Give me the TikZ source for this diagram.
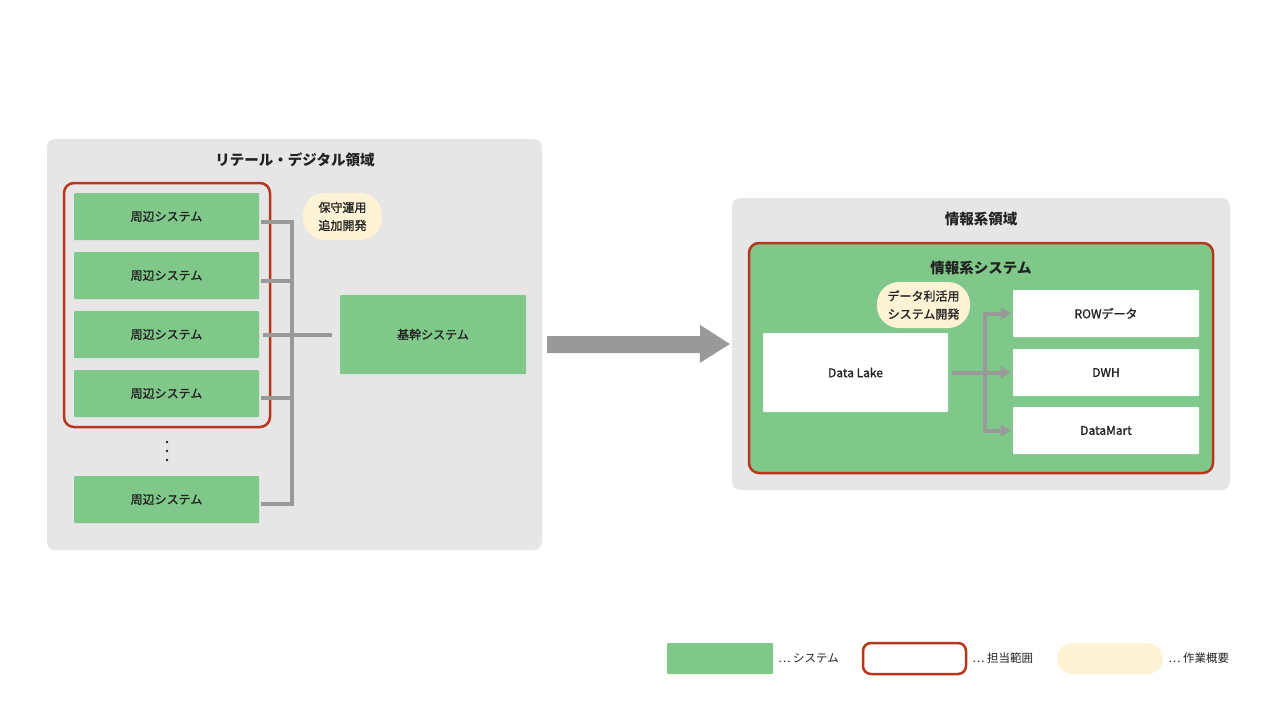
\documentclass[tikz,border=0pt]{standalone}
\usepackage{fontspec}
\setmainfont{Noto Sans CJK JP}
\newfontfamily\jpmed{Noto Sans CJK JP}[FakeBold=1.3]
\usetikzlibrary{arrows.meta}
\definecolor{panelgray}{HTML}{E6E6E6}
\definecolor{sysgreen}{HTML}{80C88A}
\definecolor{scopered}{HTML}{B8361C}
\definecolor{workyellow}{HTML}{FFF3D6}
\definecolor{conngray}{HTML}{999999}
\definecolor{txt}{HTML}{222222}
\tikzset{
  panel/.style={fill=panelgray, rounded corners=8pt, inner sep=0pt},
  sysbox/.style={fill=sysgreen, draw=none, inner sep=0pt, text=txt, font=\jpmed\fontsize{12}{14}\selectfont, rounded corners=1pt},
  whitebox/.style={fill=white, draw=none, inner sep=0pt, text=txt, font=\jpmed\fontsize{12}{14}\selectfont, rounded corners=1pt},
  scope/.style={draw=scopered, line width=2.5pt, rounded corners=10pt, inner sep=0pt},
  bubble/.style={fill=workyellow, rounded corners=22pt, inner sep=0pt, text=txt, align=center, font=\jpmed\fontsize{12}{18}\selectfont},
  titletext/.style={text=txt, font=\bfseries\fontsize{14.5}{16}\selectfont},
  conn/.style={draw=conngray, line width=4pt, line cap=rect},
  arr/.style={draw=conngray, line width=4pt, -{Triangle[length=10pt,width=12pt]}},
  legtext/.style={text=txt, anchor=west, inner sep=0pt, font=\fontsize{11.5}{13}\selectfont},
}
\begin{document}
\begin{tikzpicture}[x=1pt,y=-1pt]
\useasboundingbox[fill=white] (0,0) rectangle (1280,720);

% left panel
\node[panel, minimum width=495pt, minimum height=411pt] (left) at (294.5,344.5) {};
\node[titletext] (lefttitle) at (295,160) {リテール・デジタル領域};
\node[scope, minimum width=206pt, minimum height=244pt] (scopeL) at (167,305) {};
\node[sysbox, minimum width=185pt, minimum height=47pt] (s1) at (166.5,216.5) {周辺システム};
\node[sysbox, minimum width=185pt, minimum height=47pt] (s2) at (166.5,275.5) {周辺システム};
\node[sysbox, minimum width=185pt, minimum height=47pt] (s3) at (166.5,334.5) {周辺システム};
\node[sysbox, minimum width=185pt, minimum height=47pt] (s4) at (166.5,393.5) {周辺システム};
\node[sysbox, minimum width=185pt, minimum height=47pt] (s5) at (166.5,499.5) {周辺システム};
\foreach \yy [count=\i] in {442,451,460} \fill[txt] (167,\yy) circle (1.4pt);
\node[sysbox, minimum width=186pt, minimum height=79pt] (kikan) at (433,334.5) {基幹システム};
\node[bubble, minimum width=79pt, minimum height=47pt] (work1) at (342.5,216.5) {保守運用\\追加開発};

\coordinate (bus) at (292,0);
\draw[conn] ([shift={(4pt,-5.5pt)}]s1.east) -- ([yshift=-5.5pt]s1.east -| bus);
\draw[conn] ([shift={(4pt,-5.5pt)}]s2.east) -- ([yshift=-5.5pt]s2.east -| bus);
\draw[conn] ([shift={(4pt,-4.5pt)}]s4.east) -- ([yshift=-4.5pt]s4.east -| bus);
\draw[conn] ([shift={(4pt,-4.5pt)}]s5.east) -- ([yshift=-4.5pt]s5.east -| bus);
\draw[conn] ([yshift=-5.5pt]bus |- s1.east) -- ([yshift=-4.5pt]bus |- s5.east);
\draw[draw=conngray, line width=4pt] ([xshift=4pt]s3.east) -- ([xshift=-8pt]kikan.west);

% right panel
\node[panel, minimum width=498pt, minimum height=292pt] (right) at (981,344) {};
\node[titletext] (righttitle) at (981,219) {情報系領域};
\node[scope, fill=sysgreen, minimum width=464pt, minimum height=230pt] (scopeR) at (981,358) {};
\node[titletext] (systitle) at (981,268) {情報系システム};
\node[bubble, minimum width=93pt, minimum height=46pt] (work2) at (923.5,305) {データ利活用\\システム開発};
\node[whitebox, minimum width=185pt, minimum height=79pt] (dl) at (855.5,372.5) {Data Lake};
\node[whitebox, minimum width=186pt, minimum height=47pt] (r1) at (1106,313.5) {ROWデータ};
\node[whitebox, minimum width=186pt, minimum height=47pt] (r2) at (1106,372.5) {DWH};
\node[whitebox, minimum width=186pt, minimum height=47pt] (r3) at (1106,430.5) {DataMart};

\coordinate (bus2) at (985,0);
\draw[draw=conngray, line width=4pt] ([xshift=4pt]dl.east) -- (bus2 |- dl.east);
\draw[conn] (bus2 |- r1.west) -- (bus2 |- r3.west);
\foreach \b in {r1,r2,r3} \draw[arr] (bus2 |- \b.west) -- ([xshift=-2pt]\b.west);

% big arrow (drawn as a shape between the two panels)
\fill[conngray] ([shift={(5pt,8.5pt)}]left.east) -- ++(153,0) -- ++(0,-11) -- ([xshift=-2pt]right.west) -- ([shift={(-32pt,-19pt)}]right.west) -- ++(0,-10) -- ([shift={(5pt,-8.5pt)}]left.east) -- cycle;

% legend
\node[fill=sysgreen, minimum width=106pt, minimum height=31pt, inner sep=0pt, rounded corners=1pt] (leg1) at (720,658.5) {};
\node[legtext] (leg1t) at ([xshift=5pt]leg1.east) {⋯ システム};
\node[draw=scopered, line width=2.5pt, rounded corners=8pt, minimum width=103pt, minimum height=31pt, inner sep=0pt] (leg2) at (914.5,658.5) {};
\node[legtext] (leg2t) at ([xshift=5pt]leg2.east) {⋯ 担当範囲};
\node[fill=workyellow, rounded corners=15.5pt, minimum width=106pt, minimum height=31pt, inner sep=0pt] (leg3) at (1110,658.5) {};
\node[legtext] (leg3t) at ([xshift=5pt]leg3.east) {⋯ 作業概要};
\end{tikzpicture}
\end{document}
